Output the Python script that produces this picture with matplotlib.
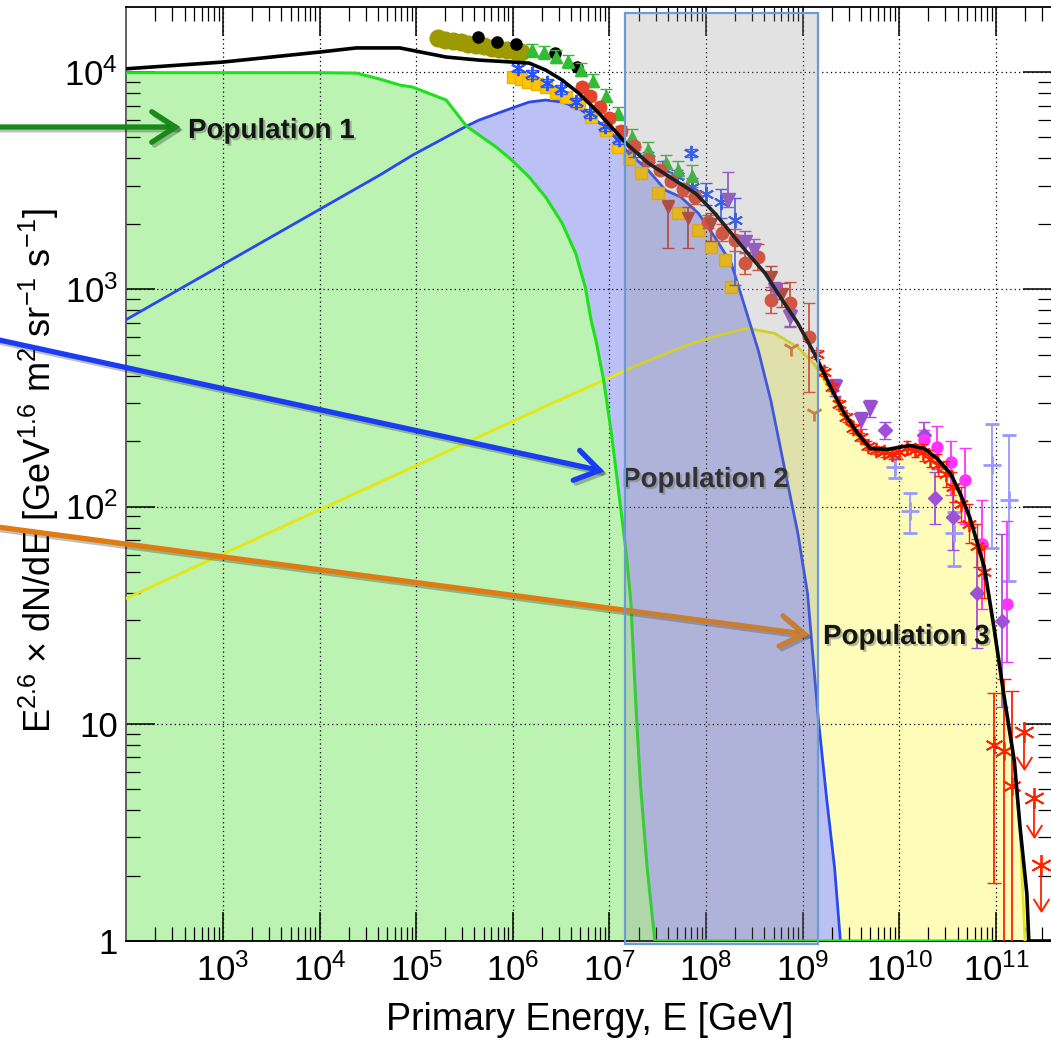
import numpy as np
import matplotlib
matplotlib.use("Agg")
import matplotlib.pyplot as plt
from matplotlib.ticker import FixedLocator, FixedFormatter, LogLocator, NullFormatter
from matplotlib.patches import Rectangle, FancyArrowPatch
from matplotlib.path import Path
from matplotlib.transforms import blended_transform_factory
import matplotlib.patheffects as pe

plt.rcParams['font.family'] = ['Liberation Sans', 'DejaVu Sans']
plt.rcParams['mathtext.fontset'] = 'custom'
plt.rcParams['mathtext.rm'] = 'Liberation Sans'
plt.rcParams['mathtext.it'] = 'Liberation Sans:italic'
plt.rcParams['mathtext.bf'] = 'Liberation Sans:bold'

# ---------------- data (log10 E [GeV], log10 E^2.6 dN/dE) ----------------
pop1_logE = [2.00, 3.00, 4.00, 4.38, 4.62, 4.83, 4.96, 5.31, 5.52, 5.83, 5.99, 6.17, 6.34, 6.51,
             6.65, 6.75, 6.81, 6.86, 6.94, 7.02, 7.09, 7.17, 7.22, 7.28, 7.32, 7.39, 7.47,
             8.0, 9.0, 10.0, 10.95]
pop1_logF = [3.997, 3.997, 3.997, 3.995, 3.968, 3.940, 3.931, 3.871, 3.751, 3.654, 3.594, 3.516,
             3.424, 3.304, 3.166, 3.009, 2.857, 2.765, 2.581, 2.336, 2.088, 1.797, 1.567, 1.028,
             0.724, 0.336, 0.0, 0.0, 0.0, 0.0, 0.0]

pop2_logE = [2.00, 4.62, 4.96, 5.52, 5.65, 5.99, 6.17, 6.34, 6.51, 6.68, 6.86, 7.02, 7.17, 7.40,
             7.58, 7.74, 7.92, 8.09, 8.26, 8.38, 8.54, 8.67, 8.81, 8.95, 9.05, 9.16, 9.25, 9.33, 9.39]
pop2_logF = [2.861, 3.525, 3.617, 3.751, 3.779, 3.834, 3.862, 3.871, 3.862, 3.834, 3.779, 3.719,
             3.641, 3.548, 3.456, 3.424, 3.350, 3.240, 3.120, 2.949, 2.719, 2.488, 2.180, 1.876,
             1.599, 1.028, 0.645, 0.336, 0.0]

pop3_logE = [2.00, 5.34, 6.47, 6.94, 7.33, 7.85, 8.20, 8.43, 8.71, 8.95, 9.12, 9.29, 9.43, 9.57,
             9.70, 9.88, 10.11, 10.26, 10.39, 10.53, 10.63, 10.73, 10.80, 10.88, 10.98, 11.08,
             11.19, 11.25, 11.30]
pop3_logF = [1.578, 2.258, 2.488, 2.581, 2.659, 2.751, 2.797, 2.820, 2.797, 2.733, 2.655, 2.530,
             2.410, 2.318, 2.250, 2.245, 2.262, 2.250, 2.205, 2.135, 2.045, 1.935, 1.830, 1.705,
             1.430, 1.125, 0.815, 0.505, 0.0]

total_logE = [2.00, 3.00, 4.00, 4.38, 4.83, 5.31, 5.65, 5.99, 6.17, 6.34, 6.51, 6.68, 6.86, 7.02,
              7.17, 7.40, 7.64, 7.89, 8.09, 8.26, 8.43, 8.61, 8.77, 8.95, 9.12, 9.29, 9.43, 9.57,
              9.70, 9.88, 10.11, 10.26, 10.39, 10.53, 10.63, 10.73, 10.80, 10.88, 10.98, 11.08,
              11.19, 11.25, 11.32, 11.34, 11.60]
total_logF = [4.015, 4.046, 4.092, 4.111, 4.111, 4.069, 4.055, 4.046, 4.041, 4.009, 3.963, 3.903,
              3.825, 3.747, 3.673, 3.581, 3.512, 3.442, 3.350, 3.258, 3.166, 3.074, 2.963, 2.843,
              2.705, 2.548, 2.429, 2.336, 2.267, 2.263, 2.281, 2.267, 2.221, 2.152, 2.060, 1.949,
              1.843, 1.719, 1.442, 1.138, 0.829, 0.521, 0.217, 0.0, 0.0]

# measurements
olive_logE = [5.22, 5.30, 5.38, 5.46, 5.54, 5.62, 5.70, 5.78, 5.86, 5.94, 6.02, 6.08]
olive_logF = [4.155, 4.147, 4.141, 4.137, 4.128, 4.124, 4.118, 4.110, 4.108, 4.101, 4.099, 4.094]

blackpt_logE = [5.64, 5.84, 6.03, 6.44, 6.66]
blackpt_logF = [4.163, 4.140, 4.129, 4.088, 4.023]

gold_logE = [6.00, 6.08, 6.16, 6.25, 6.34, 6.45, 6.55, 6.68, 6.81, 6.96, 7.09, 7.20, 7.33, 7.50,
             7.71, 7.92, 8.05, 8.20, 8.26]
gold_logF = [3.975, 3.970, 3.955, 3.945, 3.931, 3.905, 3.885, 3.857, 3.793, 3.733, 3.654, 3.600,
             3.535, 3.442, 3.350, 3.272, 3.194, 3.134, 3.009]

green_logE = [6.20, 6.32, 6.45, 6.57, 6.70, 6.83, 6.96, 7.09, 7.23, 7.40, 7.58, 7.71, 7.85]
green_logF = [4.10, 4.09, 4.07, 4.05, 4.01, 3.96, 3.89, 3.81, 3.70, 3.64, 3.58, 3.55, 3.52]
green_err = [0.03, 0.03, 0.03, 0.03, 0.03, 0.03, 0.03, 0.03, 0.04, 0.04, 0.04, 0.04, 0.05]

blue_logE = [6.05, 6.20, 6.35, 6.50, 6.65, 6.80, 6.95, 7.10, 7.25, 7.40, 7.55, 7.70, 7.84, 7.85,
             8.00, 8.15, 8.30]
blue_logF = [4.02, 3.99, 3.95, 3.92, 3.86, 3.81, 3.75, 3.69, 3.64, 3.60, 3.56, 3.52, 3.627, 3.47,
             3.44, 3.40, 3.32]
blue_err_lo = [0.02, 0.02, 0.02, 0.02, 0.02, 0.02, 0.02, 0.02, 0.03, 0.03, 0.03, 0.03, 0.02, 0.04,
               0.05, 0.07, 0.30]
blue_err_hi = [0.02, 0.02, 0.02, 0.02, 0.02, 0.02, 0.02, 0.02, 0.03, 0.03, 0.03, 0.03, 0.02, 0.04,
               0.05, 0.06, 0.10]

red_logE = [6.72, 6.80, 6.90, 6.99, 7.12, 7.25, 7.40, 7.52, 7.64, 7.76, 7.89, 8.02, 8.16, 8.30,
            8.40, 8.54, 8.67, 8.87, 9.07]
red_logF = [3.93, 3.89, 3.84, 3.79, 3.73, 3.66, 3.594, 3.55, 3.50, 3.46, 3.424, 3.31, 3.26, 3.226,
            3.12, 3.147, 2.949, 2.935, 2.779]
red_err_lo = [0.02, 0.02, 0.02, 0.02, 0.02, 0.02, 0.02, 0.02, 0.02, 0.03, 0.03, 0.03, 0.04, 0.05,
              0.05, 0.06, 0.06, 0.11, 0.25]
red_err_hi = [0.02, 0.02, 0.02, 0.02, 0.02, 0.02, 0.02, 0.02, 0.02, 0.03, 0.03, 0.03, 0.04, 0.05,
              0.05, 0.06, 0.06, 0.10, 0.16]

darkred_logE = [7.61, 7.81, 8.05, 8.67, 8.79]
darkred_logF = [3.38, 3.33, 3.30, 3.055, 2.98]
darkred_err_lo = [0.19, 0.14, 0.08, 0.06, 0.06]
darkred_err_hi = [0.03, 0.05, 0.05, 0.05, 0.05]

purple_logE = [8.23, 8.40, 8.50, 8.71, 8.87, 9.33, 9.60, 9.70]
purple_logF = [3.41, 3.217, 3.18, 2.995, 2.871, 2.548, 2.396, 2.452]
purple_err_lo = [0.03, 0.05, 0.05, 0.04, 0.04, 0.04, 0.04, 0.04]
purple_err_hi = [0.13, 0.05, 0.05, 0.04, 0.04, 0.04, 0.04, 0.04]

purpdot_logE = [9.85, 10.26, 10.37, 10.56, 10.80, 11.06]
purpdot_logF = [2.35, 2.327, 2.04, 1.95, 1.60, 1.475]
purpdot_err = [0.04, 0.06, 0.12, 0.15, 0.25, 0.40]

redstar_logE = [9.15, 9.22, 9.30, 9.38, 9.45, 9.52, 9.60, 9.68, 9.76, 9.84, 9.92, 10.00, 10.08,
                10.16, 10.24, 10.32, 10.40, 10.48, 10.56, 10.64, 10.72, 10.80, 10.88]
redstar_logF = [2.70, 2.62, 2.55, 2.47, 2.41, 2.36, 2.32, 2.28, 2.26, 2.25, 2.24, 2.25, 2.27,
                2.26, 2.25, 2.22, 2.19, 2.15, 2.09, 2.01, 1.92, 1.82, 1.70]
redstar_err = [0.02, 0.02, 0.02, 0.02, 0.02, 0.02, 0.02, 0.02, 0.02, 0.02, 0.02, 0.03, 0.03,
               0.03, 0.04, 0.04, 0.05, 0.06, 0.07, 0.08, 0.09, 0.10, 0.12]

redcut_logE = [10.98, 11.08, 11.17]
redcut_logF = [0.90, 0.876, 0.714]
redcut_err_lo = [0.633, 0.95, 0.80]
redcut_err_hi = [0.243, 0.331, 0.438]

redlim_logE = [11.29, 11.39, 11.47]
redlim_logF = [0.963, 0.658, 0.350]
redlim_len = [0.17, 0.18, 0.21]

magenta_logE = [10.26, 10.39, 10.53, 10.68, 10.86, 11.11]
magenta_logF = [2.304, 2.272, 2.203, 2.12, 1.829, 1.553]
magenta_err_lo = [0.05, 0.10, 0.15, 0.20, 0.30, 0.27]
magenta_err_hi = [0.05, 0.10, 0.10, 0.15, 0.20, 0.38]

lav_logE = [9.95, 10.11, 10.57, 10.96, 11.14]
lav_logF = [2.18, 1.98, 1.876, 2.189, 2.028]
lav_err_lo = [0.05, 0.10, 0.15, 0.378, 0.37]
lav_err_hi = [0.05, 0.08, 0.10, 0.193, 0.30]

orange_logE = [8.88, 9.12]
orange_logF = [2.728, 2.43]

x_ticks = [1e3, 1e4, 1e5, 1e6, 1e7, 1e8, 1e9, 1e10, 1e11]
x_ticklabels = [r'$10^{3}$', r'$10^{4}$', r'$10^{5}$', r'$10^{6}$', r'$10^{7}$', r'$10^{8}$',
                r'$10^{9}$', r'$10^{10}$', r'$10^{11}$']
y_ticks = [1, 10, 100, 1000, 10000]
y_ticklabels = ['1', '10', r'$10^{2}$', r'$10^{3}$', r'$10^{4}$']

box_logE = [7.165, 9.155]   # highlighted energy band

labels = ['Population 1', 'Population 2', 'Population 3']
xlabel = 'Primary Energy, E [GeV]'
ylabel = r'E$^{2.6}$ $\times$ dN/dE [GeV$^{1.6}$ m$^{2}$ sr$^{-1}$ s$^{-1}$]'


def p(a):
    return 10.0 ** np.asarray(a, dtype=float)


def errs(logF, lo, hi):
    f = np.asarray(logF, dtype=float)
    return [p(f) - p(f - np.asarray(lo)), p(f + np.asarray(hi)) - p(f)]


# ---------------- figure ----------------
W, H = 1051, 1041
fig = plt.figure(figsize=(W / 100, H / 100), dpi=100)
ax_l, ax_r, ax_t, ax_b = 126.4, 1052.0, 7.3, 941.0
ax = fig.add_axes([ax_l / W, 1 - ax_b / H, (ax_r - ax_l) / W, (ax_b - ax_t) / H])
ax.set_xscale('log')
ax.set_yscale('log')
ax.set_xlim(1e2, 10 ** 11.58)
ax.set_ylim(1, 10 ** 4.298)

floor = 0.1
# fills
ax.fill_between(p(pop3_logE), p(pop3_logF), floor, color='#fdfdb9', lw=0, zorder=1)
ax.fill_between(p(pop2_logE), p(pop2_logF), floor, color='#bcc1f5', lw=0, zorder=1.1)
ax.fill_between(p(pop1_logE), p(pop1_logF), floor, color='#bcf2b2', lw=0, zorder=1.2)

# population lines
ax.plot(p(pop3_logE), p(pop3_logF), color='#e6e612', lw=2.0, zorder=2.6)
ax.plot(p(pop2_logE), p(pop2_logF), color='#2a48ee', lw=2.0, zorder=2.7)
ax.plot(p(pop1_logE), p(pop1_logF), color='#1fe01f', lw=2.2, zorder=2.8)

# measurements
ax.plot(p(olive_logE), p(olive_logF), 'o', color='#9c9a00', ms=12, mec='#9c9a00', zorder=3)
ax.plot(p(blackpt_logE), p(blackpt_logF), 'o', color='k', ms=8, zorder=3.1)
ax.plot(p(gold_logE), p(gold_logF), 's', color='#ffc400', ms=8, mec='#f0b000', zorder=3)
ax.errorbar(p(green_logE), p(green_logF), yerr=errs(green_logF, green_err, green_err), fmt='^',
            color='#33bb33', ms=8, capsize=4, elinewidth=1.2, zorder=3.2)
ast = (6, 2, 0)
ax.errorbar(p(blue_logE), p(blue_logF), yerr=errs(blue_logF, blue_err_lo, blue_err_hi), fmt='none',
            ecolor='#3355ff', capsize=4, elinewidth=1.2, zorder=3.2)
ax.plot(p(blue_logE), p(blue_logF), ls='none', marker=ast, color='#2255ff', ms=11, mew=1.4, zorder=3.3)
ax.errorbar(p(red_logE), p(red_logF), yerr=errs(red_logF, red_err_lo, red_err_hi), fmt='o',
            color='#e5442b', ms=9, capsize=4, elinewidth=1.3, zorder=3.3)
ax.errorbar(p(darkred_logE), p(darkred_logF), yerr=errs(darkred_logF, darkred_err_lo, darkred_err_hi),
            fmt='v', color='#c0392b', ms=9, capsize=4, elinewidth=1.3, zorder=3.3)
ax.errorbar(p(purple_logE), p(purple_logF), yerr=errs(purple_logF, purple_err_lo, purple_err_hi),
            fmt='v', color='#9a4fd0', ms=10, capsize=4, elinewidth=1.3, zorder=3.3)
ax.errorbar(p(purpdot_logE), p(purpdot_logF), yerr=errs(purpdot_logF, purpdot_err, purpdot_err),
            fmt='D', color='#a050d8', ms=7, capsize=4, elinewidth=1.3, zorder=3.3)
ax.errorbar(p(lav_logE), p(lav_logF), yerr=errs(lav_logF, lav_err_lo, lav_err_hi), fmt='+',
            color='#9999ff', ms=13, mew=2, capsize=5, elinewidth=1.3, zorder=3.2)
ax.errorbar(p(magenta_logE), p(magenta_logF), yerr=errs(magenta_logF, magenta_err_lo, magenta_err_hi),
            fmt='o', color='#ff33ff', ms=8, capsize=4, elinewidth=1.3, zorder=3.3)
ax.errorbar(p(redstar_logE), p(redstar_logF), yerr=errs(redstar_logF, redstar_err, redstar_err),
            fmt='none', ecolor='#ff2200', capsize=3, elinewidth=1.0, zorder=3.4)
ax.plot(p(redstar_logE), p(redstar_logF), ls='none', marker=ast, color='#ff2200', ms=11, mew=1.3, zorder=3.4)
ax.errorbar(p(redcut_logE), p(redcut_logF), yerr=errs(redcut_logF, redcut_err_lo, redcut_err_hi),
            fmt='none', ecolor='#ff2200', capsize=5, elinewidth=1.3, zorder=3.4)
ax.plot(p(redcut_logE), p(redcut_logF), ls='none', marker=ast, color='#ff2200', ms=13, mew=1.3, zorder=3.4)
lim_top = p(redlim_logF)
lim_bot = p(np.asarray(redlim_logF) - np.asarray(redlim_len))
ax.vlines(p(redlim_logE), lim_bot, lim_top, color='#ff2200', lw=1.3, zorder=3.4)
chev = Path([(-1, 1.6), (0, 0), (1, 1.6)], [Path.MOVETO, Path.LINETO, Path.LINETO])
ax.plot(p(redlim_logE), lim_bot, ls='none', marker=chev, ms=18, mfc='none', mec='#ff2200', mew=1.4, zorder=3.4)
ax.plot(p(redlim_logE), lim_top, ls='none', marker=ast, color='#ff2200', ms=15, mew=1.3, zorder=3.4)
ax.plot(p(orange_logE), p(orange_logF), ls='none', marker='1', color='#e07a30', ms=12, mew=2, zorder=3.3)

# total
ax.plot(p(total_logE), p(total_logF), color='k', lw=2.6, zorder=3.8)

# axes styling
ax.xaxis.set_major_locator(FixedLocator(x_ticks))
ax.xaxis.set_major_formatter(FixedFormatter(x_ticklabels))
ax.yaxis.set_major_locator(FixedLocator(y_ticks))
ax.yaxis.set_major_formatter(FixedFormatter(y_ticklabels))
ax.xaxis.set_minor_locator(LogLocator(base=10, subs=np.arange(2, 10), numticks=100))
ax.yaxis.set_minor_locator(LogLocator(base=10, subs=np.arange(2, 10), numticks=100))
ax.xaxis.set_minor_formatter(NullFormatter())
ax.yaxis.set_minor_formatter(NullFormatter())
ax.tick_params(which='major', direction='in', length=21, width=1.1, top=True, right=True,
               labelsize=25, colors='k')
ax.tick_params(which='minor', direction='in', length=10, width=0.9, top=True, right=True)
ax.tick_params(axis='x', which='major', pad=9)
ax.tick_params(axis='y', which='major', pad=6)
ax.grid(True, which='major', color='k', linestyle=(0, (1, 2.5)), linewidth=0.9)
for s in ax.spines.values():
    s.set_linewidth(1.3)
ax.spines['left'].set_color('#555555')

fig.text((ax_l + ax_r) / 2 / W, 1 - 1030 / H, xlabel, fontsize=27, ha='center', va='baseline')
fig.text(39 / W, 1 - 471 / H, ylabel, fontsize=26, rotation=90, ha='center', va='center')

# annotations (figure pixel coordinates)
def fpt(x, y):
    return (x / W, 1 - y / H)

arrow_specs = [((-10, 127), (183, 127), '#178a17'),
               ((-10, 338), (607, 472), '#1a3cf5'),
               ((-10, 526), (812, 635), '#e07b12')]
for (a, b, c) in arrow_specs:
    arr = FancyArrowPatch(fpt(*a), fpt(*b), transform=fig.transFigure,
                          arrowstyle='->,head_length=0.85,head_width=0.55', mutation_scale=20,
                          color=c, lw=3.8, zorder=4, capstyle='round', joinstyle='miter')
    arr.set_path_effects([pe.SimpleLineShadow(offset=(2, -2), shadow_color='k', alpha=0.25),
                          pe.Normal()])
    fig.add_artist(arr)

text_pos = [(188, 131), (622, 480), (823, 637)]
for lab, (tx, ty) in zip(labels, text_pos):
    fig.text(tx / W, 1 - ty / H, lab, fontsize=20, fontweight='bold', color='#151515',
             ha='left', va='center', zorder=4,
             path_effects=[pe.withSimplePatchShadow(offset=(1.5, -1.5), shadow_rgbFace='0.4', alpha=0.45)])

# highlighted band box
btr = blended_transform_factory(ax.transData, fig.transFigure)
bx0, bx1 = p(box_logE)
by0, by1 = 1 - 944 / H, 1 - 13 / H
box = Rectangle((bx0, by0), bx1 - bx0, by1 - by0, transform=btr,
                facecolor=(0.55, 0.55, 0.55, 0.25), edgecolor='#6b9bd2', lw=1.6, zorder=6)
fig.add_artist(box)

fig.savefig('out.png', dpi=100)
